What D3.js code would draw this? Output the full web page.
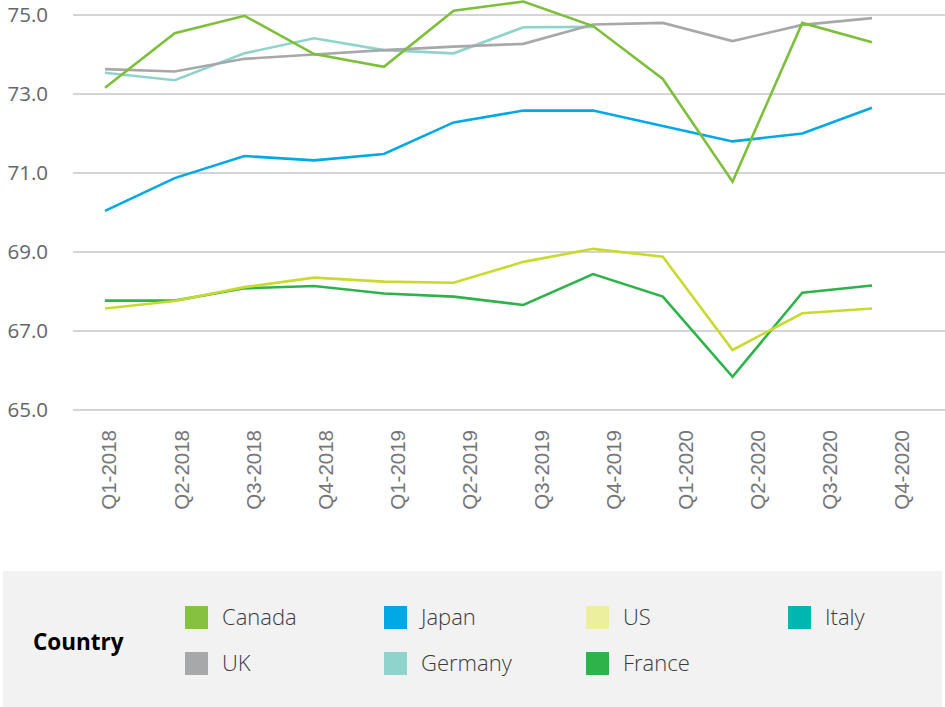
<!DOCTYPE html>
<html>
<head>
<meta charset="utf-8">
<script src="https://cdn.jsdelivr.net/npm/d3@7"></script>
<style>
  html, body { margin: 0; padding: 0; background: #fff; }
  svg { display: block; }
</style>
</head>
<body>
<svg id="chart" width="945" height="707"></svg>
<script>
const quarters = ["Q1-2018","Q2-2018","Q3-2018","Q4-2018","Q1-2019","Q2-2019","Q3-2019","Q4-2019","Q1-2020","Q2-2020","Q3-2020","Q4-2020"];
const yTicks = [65, 67, 69, 71, 73, 75];

const canada  = [73.16, 74.54, 74.98, 74.01, 73.69, 75.11, 75.34, 74.72, 73.38, 70.78, 74.80, 74.31];
const uk      = [73.63, 73.57, 73.89, 74.00, 74.11, 74.20, 74.27, 74.76, 74.80, 74.34, 74.75, 74.92];
const germany = [73.54, 73.35, 74.03, 74.41, 74.11, 74.03, 74.69, 74.70, null, null, null, null];
const japan   = [70.04, 70.87, 71.43, 71.32, 71.48, 72.28, 72.58, 72.58, 72.19, 71.80, 72.00, 72.65];
const france  = [67.77, 67.77, 68.08, 68.14, 67.95, 67.87, 67.66, 68.44, 67.87, 65.84, 67.97, 68.15];
const us      = [67.57, 67.76, 68.11, 68.35, 68.25, 68.22, 68.75, 69.08, 68.88, 66.52, 67.45, 67.57];
const italy   = [null, null, null, null, null, null, null, null, null, null, null, null];

const legendNames  = ["Canada","Japan","US","Italy","UK","Germany","France"];
const swatchColors = ["#84c23f","#00a8e5","#ecef9b","#00b6b1","#a6a8aa","#8fd4cc","#2db34a"];

const series = [
  {name:"Italy",   values: italy,   color:"#00b6b1"},
  {name:"France",  values: france,  color:"#2db34a"},
  {name:"US",      values: us,      color:"#c9da2e"},
  {name:"Japan",   values: japan,   color:"#00a8e5"},
  {name:"Germany", values: germany, color:"#8fd4cc"},
  {name:"UK",      values: uk,      color:"#a6a8aa"},
  {name:"Canada",  values: canada,  color:"#7dbf3a"}
];

const svg = d3.select("#chart");

const y = d3.scaleLinear().domain([65, 75]).range([410, 15]);
const xLine = d3.scalePoint().domain(quarters).range([105, 872]);
const xLabel = d3.scaleBand().domain(quarters).range([73, 938]);

// gridlines
svg.append("g").selectAll("line").data(yTicks).join("line")
  .attr("x1", 73).attr("x2", 945)
  .attr("y1", d => y(d)).attr("y2", d => y(d))
  .attr("stroke", "#c6c6c6").attr("stroke-width", 1.5);

// y labels
svg.append("g").selectAll("text").data(yTicks).join("text")
  .attr("x", 48).attr("y", d => y(d)).attr("dy", "0.35em")
  .attr("text-anchor", "end")
  .attr("font-family", "'Open Sans', sans-serif")
  .attr("font-size", 20.5)
  .attr("fill", "#63666a")
  .text(d => d.toFixed(1));

// x labels
svg.append("g").selectAll("text").data(quarters).join("text")
  .attr("transform", d => `translate(${xLabel(d) + xLabel.bandwidth()/2},430) rotate(-90)`)
  .attr("dy", "0.36em")
  .attr("text-anchor", "end")
  .attr("font-family", "'Liberation Sans', Arial, sans-serif")
  .attr("font-size", 20.5)
  .attr("fill", "#747579")
  .text(d => d);

// lines
const line = d3.line()
  .defined(d => d.v != null)
  .x(d => xLine(d.q))
  .y(d => y(d.v));

svg.append("g").selectAll("path").data(series).join("path")
  .attr("d", s => line(s.values.map((v, i) => ({q: quarters[i], v}))))
  .attr("fill", "none")
  .attr("stroke", s => s.color)
  .attr("stroke-width", 2.6)
  .attr("stroke-linejoin", "miter");

// legend
const lg = svg.append("g");
lg.append("rect").attr("x", 3).attr("y", 571).attr("width", 939).attr("height", 136).attr("fill", "#f2f2f2");
lg.append("text").attr("x", 33).attr("y", 642).attr("dy", "0.35em")
  .attr("font-family", "'Open Sans', sans-serif").attr("font-weight", "bold")
  .attr("font-size", 22.5).attr("fill", "#000").text("Country");

const colX = [185, 384, 586, 788];
const rowY = [606, 652];
const items = lg.selectAll("g.item").data(legendNames).join("g")
  .attr("class", "item")
  .attr("transform", (d, i) => `translate(${colX[i % 4]},${rowY[Math.floor(i / 4)]})`);
items.append("rect").attr("width", 23).attr("height", 23).attr("fill", (d, i) => swatchColors[i]);
items.append("text").attr("x", 37).attr("y", 11.5).attr("dy", "0.35em")
  .attr("font-family", "'Open Sans', sans-serif").attr("font-weight", 300)
  .attr("font-size", 22).attr("fill", "#3a3a3a").text(d => d);
</script>
</body>
</html>
